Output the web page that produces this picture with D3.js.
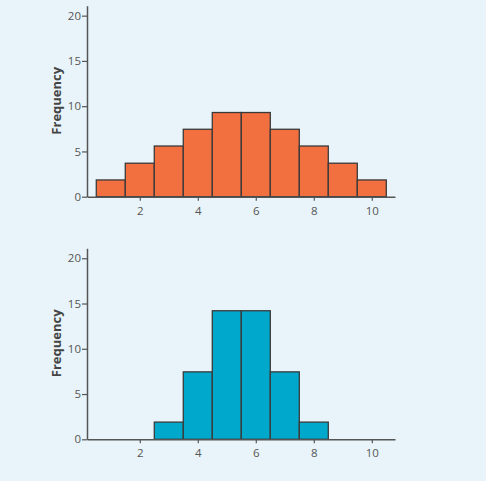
<!DOCTYPE html>
<html lang="en">
<head>
    <meta charset="UTF-8">
    <title>Histograms</title>
    <style>
        body { margin: 0; background: #fff; }
        text { font-family: "Open Sans", sans-serif; }
    </style>
</head>
<body>
    <svg id="chart"></svg>

    <script src="https://cdn.jsdelivr.net/npm/d3@7"></script>
    <script>
        // bin centres and frequencies
        const bins = [1, 2, 3, 4, 5, 6, 7, 8, 9, 10];
        const freqTop = [1.85, 3.7, 5.6, 7.45, 9.3, 9.3, 7.45, 5.6, 3.7, 1.85];
        const freqBottom = [0, 0, 1.9, 7.45, 14.2, 14.2, 7.45, 1.9, 0, 0];
        const xTicks = [2, 4, 6, 8, 10];
        const yTicks = [0, 5, 10, 15, 20];

        const W = 503, H = 481;
        const svg = d3.select('#chart').attr('width', W).attr('height', H);

        svg.append('rect')
            .attr('width', 486).attr('height', H)
            .attr('fill', '#e8f4f9');

        const x = d3.scaleLinear().domain([0.18, 10.8]).range([87, 395]);

        function histogram(values, color, y0) {
            const y = d3.scaleLinear().domain([0, 21.1]).range([y0, y0 - 191]);
            const g = svg.append('g');

            g.selectAll('rect.bar')
                .data(bins.map((b, i) => ({ b, v: values[i] })).filter(d => d.v > 0))
                .enter()
                .append('rect')
                .attr('class', 'bar')
                .attr('x', d => x(d.b - 0.5))
                .attr('width', d => x(d.b + 0.5) - x(d.b - 0.5))
                .attr('y', d => y(d.v))
                .attr('height', d => y(0) - y(d.v))
                .attr('fill', color)
                .attr('stroke', '#3a3a3a')
                .attr('stroke-width', 1.3);

            const xAxis = g.append('g')
                .attr('transform', `translate(0, ${y0})`)
                .call(d3.axisBottom(x).tickValues(xTicks).tickSize(4).tickSizeOuter(0));

            const yAxis = g.append('g')
                .attr('transform', `translate(${x.range()[0]}, 0)`)
                .call(d3.axisLeft(y).tickValues(yTicks).tickSize(5).tickSizeOuter(0));

            [xAxis, yAxis].forEach(a => {
                a.select('.domain').attr('stroke', '#555').attr('stroke-width', 1.5);
                a.selectAll('.tick line').attr('stroke', '#555').attr('stroke-width', 1.2);
                a.selectAll('.tick text')
                    .attr('fill', '#555')
                    .style('font-size', '11.5px')
                    .style('font-family', '"Open Sans", sans-serif');
            });
            yAxis.selectAll('.tick text').attr('x', -6);
            xAxis.selectAll('.tick text').attr('y', 10);

            g.append('text')
                .attr('transform', `translate(61, ${y(10.6)}) rotate(-90)`)
                .attr('text-anchor', 'middle')
                .attr('fill', '#444')
                .style('font-size', '13px')
                .style('font-weight', 'bold')
                .text('Frequency');
        }

        histogram(freqTop, '#f26f40', 196.7);
        histogram(freqBottom, '#00a8cc', 439.3);
    </script>
</body>
</html>
